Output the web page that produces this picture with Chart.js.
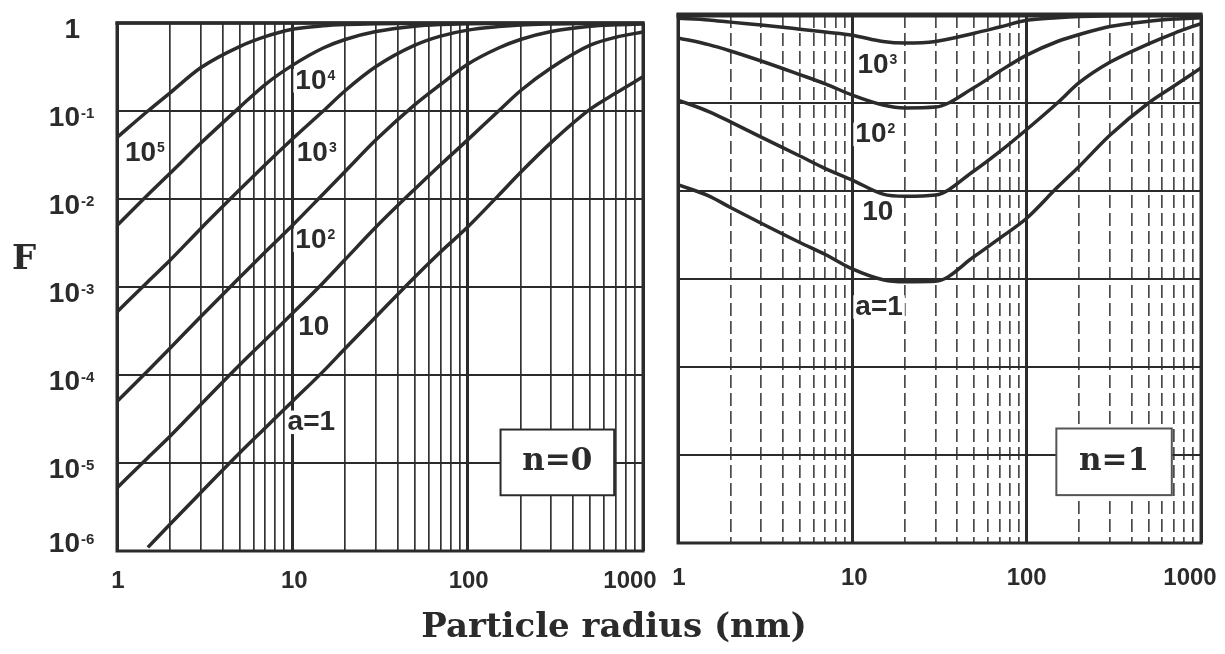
<!DOCTYPE html>
<html>
<head>
<meta charset="utf-8">
<script src="https://cdn.jsdelivr.net/npm/chart.js@4.4.1/dist/chart.umd.min.js"></script>
<style>
  html, body { margin: 0; padding: 0; background: #fff; }
  #wrap { position: relative; width: 1225px; height: 654px; }
  canvas { position: absolute; left: 0; top: 0; }
</style>
</head>
<body>
<div id="wrap">
  <canvas id="left" width="1225" height="654"></canvas>
  <canvas id="right" width="1225" height="654"></canvas>
</div>
<script>
// particle radius (nm), shared by every curve
const radius = [1, 1.5, 2, 3, 5, 7, 10, 15, 20, 30, 50, 70, 100, 150, 200, 300, 500, 700, 1000];

// n = 0 panel, F for each a
const n0A1      = [null, 1.1e-6, 2.0e-6, 4.6e-6, 1.3e-5, 2.5e-5, 5.0e-5, 1.1e-4, 2.0e-4, 4.6e-4, 1.3e-3, 2.5e-3, 4.8e-3, 1.1e-2, 2.0e-2, 4.4e-2, 0.105, 0.16, 0.245];
const n0A10     = [5.2e-6, 1.15e-5, 2.0e-5, 4.6e-5, 1.3e-4, 2.5e-4, 5.0e-4, 1.12e-3, 2.05e-3, 4.8e-3, 1.3e-2, 2.45e-2, 4.7e-2, 0.1, 0.17, 0.31, 0.56, 0.69, 0.79];
const n0A100    = [5.0e-5, 1.12e-4, 2.0e-4, 4.6e-4, 1.28e-3, 2.5e-3, 5.0e-3, 1.14e-2, 2.05e-2, 4.7e-2, 0.118, 0.2, 0.34, 0.52, 0.65, 0.8, 0.92, 0.955, 0.975];
const n0A1000   = [5.2e-4, 1.15e-3, 2.0e-3, 4.6e-3, 1.27e-2, 2.45e-2, 4.8e-2, 0.1, 0.17, 0.32, 0.56, 0.71, 0.83, 0.91, 0.95, 0.975, 0.99, 0.995, 1];
const n0A10000  = [5.0e-3, 1.12e-2, 1.95e-2, 4.3e-2, 0.11, 0.2, 0.33, 0.52, 0.65, 0.8, 0.92, 0.96, 0.98, 0.99, 0.995, 1, 1, 1, 1];
const n0A100000 = [0.05, 0.1, 0.16, 0.31, 0.54, 0.7, 0.85, 0.93, 0.96, 0.98, 0.99, 1, 1, 1, 1, 1, 1, 1, 1];

// n = 1 panel
const n1A1    = [0.0118, 0.0088, 0.0065, 0.0043, 0.0026, 0.0019, 0.0013, 0.00098, 0.00093, 0.00094, 0.0018, 0.0029, 0.0049, 0.011, 0.019, 0.043, 0.1, 0.156, 0.25];
const n1A10   = [0.108, 0.08, 0.061, 0.041, 0.025, 0.018, 0.0133, 0.0092, 0.0087, 0.009, 0.017, 0.028, 0.05, 0.1, 0.17, 0.29, 0.47, 0.62, 0.8];
const n1A100  = [0.55, 0.46, 0.39, 0.3, 0.21, 0.165, 0.123, 0.095, 0.088, 0.09, 0.15, 0.23, 0.35, 0.5, 0.6, 0.74, 0.85, 0.9, 0.93];
const n1A1000 = [0.92, 0.88, 0.83, 0.77, 0.69, 0.64, 0.59, 0.5, 0.48, 0.5, 0.62, 0.73, 0.87, 0.93, 0.96, 0.98, 0.99, 1, 1];

// axes
const xDecades = [1, 10, 100, 1000];
const xTickLabels = ['1', '10', '100', '1000'];
const yDecades = [1e-6, 1e-5, 1e-4, 1e-3, 1e-2, 1e-1, 1];
const yTickBase = ['10', '10', '10', '10', '10', '10', '1'];
const yTickExp = ['-6', '-5', '-4', '-3', '-2', '-1', ''];

// curve labels (base text, superscript, position in data units)
const n0Labels = [
  { base: '10', exp: '5', r: 1.11, F: 0.033 },
  { base: '10', exp: '4', r: 10.4, F: 0.22 },
  { base: '10', exp: '3', r: 10.6, F: 0.033 },
  { base: '10', exp: '2', r: 10.4, F: 0.0034 },
  { base: '10', exp: '', r: 10.8, F: 3.5e-4 },
  { base: 'a=1', exp: '', r: 9.4, F: 2.9e-5 }
];
const n1Labels = [
  { base: '10', exp: '3', r: 10.7, F: 0.27 },
  { base: '10', exp: '2', r: 10.4, F: 0.044 },
  { base: '10', exp: '', r: 11.4, F: 0.0058 },
  { base: 'a=1', exp: '', r: 10.4, F: 4.8e-4 }
];

const INK = '#2b2b2b';
const SANS = '"Liberation Sans", Arial, sans-serif';
const SERIF = '"DejaVu Serif", serif';

const xGridValues = [];
xDecades.forEach((d, i) => {
  if (i === xDecades.length - 1) { xGridValues.push(d); return; }
  for (let k = 1; k <= 9; k++) xGridValues.push(d * k);
});

function toPoints(ys) {
  return radius.map((r, i) => ({ x: r, y: ys[i] })).filter(p => p.y !== null);
}

function makeDatasets(list) {
  return list.map(([label, ys]) => ({
    label,
    data: toPoints(ys),
    borderColor: INK,
    borderWidth: 3.5,
    pointRadius: 0,
    cubicInterpolationMode: 'monotone',
    fill: false
  }));
}

function drawPow(ctx, base, exp, x, y, size, expSize, align, bg) {
  ctx.font = `bold ${size}px ${SANS}`;
  const bw = ctx.measureText(base).width;
  ctx.font = `bold ${expSize}px ${SANS}`;
  const ew = exp ? ctx.measureText(exp).width + 1 : 0;
  const left = align === 'right' ? x - bw : x;
  if (bg) {
    ctx.fillStyle = '#fff';
    ctx.fillRect(left - 2, y - size * 0.42, bw + ew + 4, size * 0.84);
  }
  ctx.fillStyle = INK;
  ctx.textAlign = 'left';
  ctx.textBaseline = 'middle';
  ctx.font = `bold ${size}px ${SANS}`;
  ctx.fillText(base, left, y);
  if (exp) {
    ctx.font = `bold ${expSize}px ${SANS}`;
    ctx.textBaseline = 'top';
    ctx.fillText(exp, left + bw + 1, y - size * 0.42);
  }
}

function drawBox(ctx, x, y, box, color) {
  const x0 = x.getPixelForValue(box.r0), x1 = x.getPixelForValue(box.r1);
  const y0 = y.getPixelForValue(box.F0), y1 = y.getPixelForValue(box.F1);
  ctx.fillStyle = '#fff';
  ctx.fillRect(x0, y0, x1 - x0, y1 - y0);
  ctx.strokeStyle = color;
  ctx.lineWidth = 2;
  ctx.strokeRect(x0, y0, x1 - x0, y1 - y0);
  ctx.fillStyle = INK;
  ctx.font = `bold 31px ${SERIF}`;
  ctx.textAlign = 'center';
  ctx.textBaseline = 'middle';
  ctx.fillText(box.text, (x0 + x1) / 2, (y0 + y1) / 2);
}

function makeDecor(id, cfg) {
  return {
    id,
    afterDraw(chart) {
      const { ctx, chartArea: a, scales: { x, y } } = chart;
      ctx.save();
      ctx.strokeStyle = INK;
      ctx.lineWidth = 3;
      ctx.strokeRect(a.left, a.top, a.right - a.left, a.bottom - a.top);
      ctx.lineWidth = cfg.topWidth;
      ctx.beginPath();
      ctx.moveTo(a.left - 1.5, a.top);
      ctx.lineTo(a.right + 1.5, a.top);
      ctx.stroke();

      cfg.labels.forEach(l => {
        drawPow(ctx, l.base, l.exp, x.getPixelForValue(l.r), y.getPixelForValue(l.F), 28, 14, 'left', true);
      });
      drawBox(ctx, x, y, cfg.box, cfg.boxColor);

      ctx.fillStyle = INK;
      ctx.font = `bold 24px ${SANS}`;
      ctx.textAlign = 'center';
      ctx.textBaseline = 'middle';
      xDecades.forEach((v, i) => {
        ctx.fillText(xTickLabels[i], x.getPixelForValue(v) + cfg.xLabelShift[i], cfg.xLabelY);
      });

      if (cfg.yLabels) {
        yDecades.forEach((v, i) => {
          const py = y.getPixelForValue(v) + (i === 0 ? -7 : 7);
          drawPow(ctx, yTickBase[i], yTickExp[i], a.left - 37, py, 28, 15, 'right', false);
        });
        ctx.fillStyle = INK;
        ctx.font = `bold 34px ${SERIF}`;
        ctx.textAlign = 'center';
        ctx.textBaseline = 'middle';
        ctx.fillText('F', 24, 260);
      }
      if (cfg.xTitle) {
        ctx.fillStyle = INK;
        ctx.font = `bold 34px ${SERIF}`;
        ctx.textAlign = 'center';
        ctx.textBaseline = 'middle';
        ctx.fillText('Particle radius (nm)', 614, 628);
      }
      ctx.restore();
    }
  };
}

function makePanel(canvasId, datasets, padding, dashedMinor, decor) {
  return new Chart(document.getElementById(canvasId), {
    type: 'line',
    data: { datasets },
    options: {
      responsive: false,
      animation: false,
      events: [],
      layout: { padding },
      plugins: { legend: { display: false }, tooltip: { enabled: false } },
      scales: {
        x: {
          type: 'logarithmic',
          min: 1,
          max: 1000,
          ticks: { display: false },
          afterBuildTicks: s => { s.ticks = xGridValues.map(v => ({ value: v, major: xDecades.includes(v) })); },
          afterFit: s => { s.height = 0; },
          border: {
            display: false,
            dash: c => (dashedMinor && c.tick && !c.tick.major ? [13, 5] : [])
          },
          grid: {
            drawTicks: false,
            color: c => (c.tick && c.tick.major ? INK : (dashedMinor ? '#4a4a4a' : '#333')),
            lineWidth: c => (c.tick && c.tick.major ? 3 : 1.7)
          }
        },
        y: {
          type: 'logarithmic',
          min: 1e-6,
          max: 1,
          ticks: { display: false },
          afterBuildTicks: s => { s.ticks = yDecades.map(v => ({ value: v, major: true })); },
          afterFit: s => { s.width = 0; },
          border: { display: false },
          grid: { drawTicks: false, color: INK, lineWidth: 2 }
        }
      }
    },
    plugins: [decor]
  });
}

makePanel('left', makeDatasets([
  ['a=1', n0A1], ['10', n0A10], ['10^2', n0A100],
  ['10^3', n0A1000], ['10^4', n0A10000], ['10^5', n0A100000]
]), { left: 117, top: 23, right: 1225 - 643, bottom: 654 - 551 }, false,
  makeDecor('leftDecor', {
    labels: n0Labels,
    box: { text: 'n=0', r0: 154, r1: 685, F0: 2.4e-5, F1: 4.3e-6 },
    boxColor: INK,
    topWidth: 3.5,
    xLabelShift: [1, 2, 1, -13],
    xLabelY: 581,
    yLabels: true,
    xTitle: false
  }));

makePanel('right', makeDatasets([
  ['a=1', n1A1], ['10', n1A10], ['10^2', n1A100], ['10^3', n1A1000]
]), { left: 678, top: 15, right: 1225 - 1201, bottom: 654 - 543 }, true,
  makeDecor('rightDecor', {
    labels: n1Labels,
    box: { text: 'n=1', r0: 148, r1: 680, F0: 2.0e-5, F1: 3.5e-6 },
    boxColor: '#555',
    topWidth: 5,
    xLabelShift: [1, 2, 0, -11],
    xLabelY: 578,
    yLabels: false,
    xTitle: true
  }));
</script>
</body>
</html>
